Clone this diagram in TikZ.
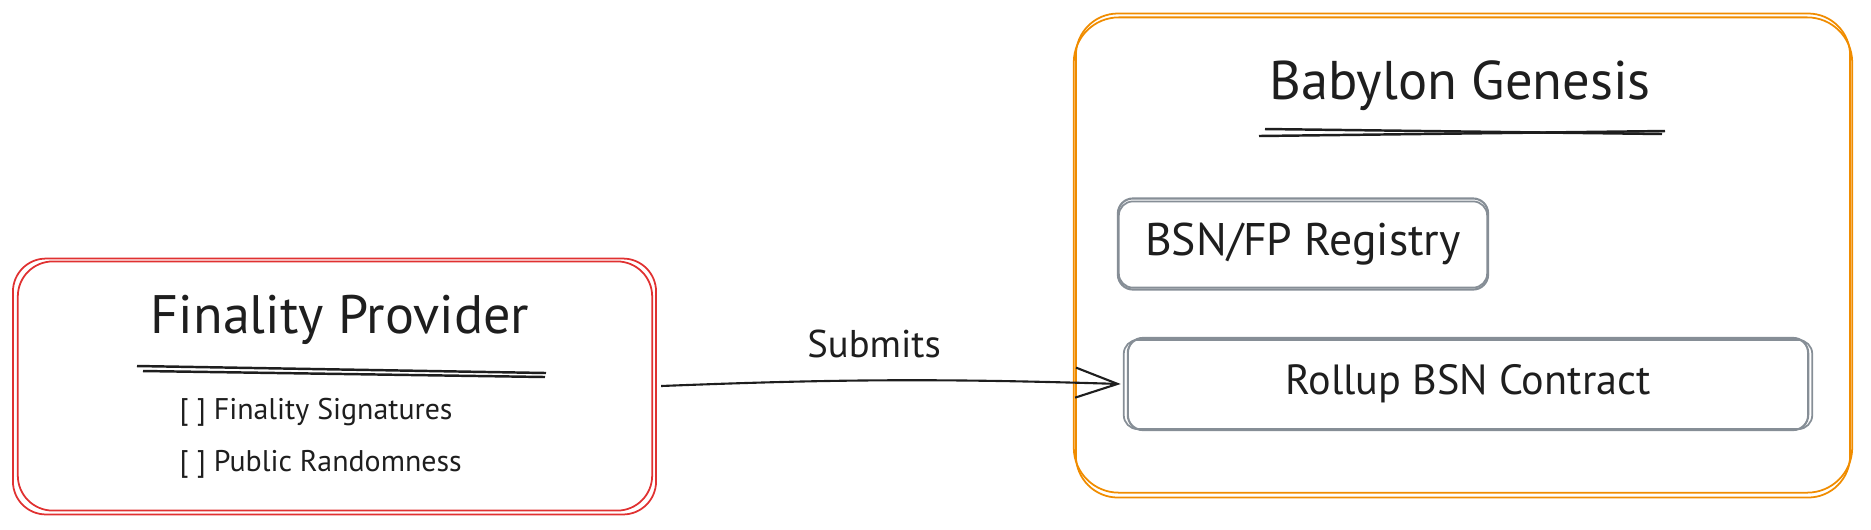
\documentclass[tikz,border=0pt]{standalone}
\usepackage{fontspec}
\setmainfont{PT Sans}
\usetikzlibrary{arrows.meta, positioning, calc}
\definecolor{fpred}{HTML}{E03131}
\definecolor{bsnorange}{HTML}{F08C00}
\definecolor{boxgray}{HTML}{868E96}
\definecolor{inkblack}{HTML}{1E1E1E}

\begin{document}
\begin{tikzpicture}[x=0.01cm, y=-0.01cm,
    outer_box/.style={draw, line width=0.5pt, inner sep=0pt},
    inner_box/.style={draw=boxgray, line width=0.6pt, rounded corners=0.15cm, text=inkblack, inner sep=0pt},
    title_text/.style={font=\fontsize{15.4}{18}\selectfont, text=inkblack},
    item_text/.style={font=\fontsize{8.5}{10}\selectfont, text=inkblack, anchor=west, inner sep=0pt},
    under_line/.style={inkblack, line width=0.7pt},
    arrow/.style={-{Straight Barb[length=4.2mm, width=3mm]}, line width=0.6pt, draw=inkblack}
]

    \useasboundingbox (0,0) rectangle (1871,529);

    % Finality Provider box (drawn twice for the sketchy look)
    \node[outer_box, draw=fpred, rounded corners=0.35cm, minimum width=6.34cm, minimum height=2.49cm] (fp) at (335,386) {};
    \draw[fpred, line width=0.5pt, rounded corners=0.33cm] ([shift={(-4,3)}]fp.south west) rectangle ([shift={(3,-2)}]fp.north east);

    \node[title_text] (fp_title) at (340,320) {Finality Provider};
    \draw[under_line] (137,366) -- (546,373);
    \draw[under_line] (143,371) -- (545,377);

    \node[item_text] (fp_sig) at (179,412) {[ ] Finality Signatures};
    \node[item_text] (fp_rand) at (179,464) {[ ] Public Randomness};

    % Babylon Genesis box
    \node[outer_box, draw=bsnorange, rounded corners=0.45cm, minimum width=7.78cm, minimum height=4.75cm] (bbn) at (1463,255) {};
    \draw[bsnorange, line width=0.5pt, rounded corners=0.42cm] ([shift={(3,4)}]bbn.south west) rectangle ([shift={(-3,-3)}]bbn.north east);

    \node[title_text, font=\fontsize{15.5}{18}\selectfont] (bbn_title) at (1460,86) {Babylon Genesis};
    \draw[under_line] (1265,129) -- (1662,134);
    \draw[under_line] (1259,136) -- (1665,131);

    % inner contracts
    \node[inner_box, minimum width=3.7cm, minimum height=0.91cm, font=\fontsize{13}{15}\selectfont] (registry) at (1303,244) {BSN/FP Registry};
    \draw[boxgray, line width=0.5pt, rounded corners=0.14cm] ([shift={(2,-3)}]registry.south west) rectangle ([shift={(-2,4)}]registry.north east);

    \node[inner_box, minimum width=6.8cm, minimum height=0.92cm, font=\fontsize{12}{15}\selectfont] (rollup) at (1468,384) {Rollup BSN Contract};
    \draw[boxgray, line width=0.5pt, rounded corners=0.14cm] ([shift={(-3,-2)}]rollup.south west) rectangle ([shift={(3,3)}]rollup.north east);

    % submission arrow
    \draw[arrow] ([xshift=0.08cm]fp.east) to[bend left=2]
        node[pos=0.46, above=0.1cm, font=\fontsize{11}{13}\selectfont, text=inkblack] (submits_lbl) {Submits}
        ([xshift=-0.06cm]rollup.west);

\end{tikzpicture}
\end{document}
